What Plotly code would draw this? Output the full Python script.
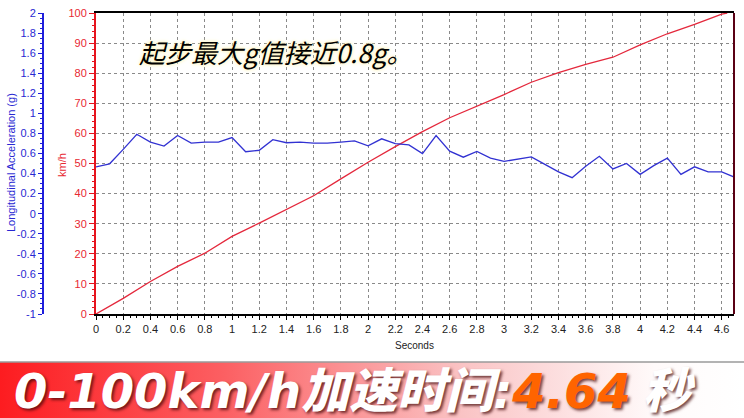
import plotly.graph_objects as go

W, H = 744, 418

# ---- data ----
accel_time = [round(i * 0.1, 1) for i in range(48)]
accel_g = [0.467, 0.497, 0.641, 0.791, 0.713, 0.674, 0.779, 0.704, 0.713, 0.713,
           0.758, 0.617, 0.632, 0.737, 0.707, 0.713, 0.704, 0.704, 0.713, 0.725,
           0.677, 0.746, 0.698, 0.686, 0.599, 0.779, 0.623, 0.563, 0.620, 0.554,
           0.521, 0.542, 0.566, 0.491, 0.416, 0.359, 0.473, 0.572, 0.446, 0.500,
           0.392, 0.479, 0.554, 0.392, 0.467, 0.416, 0.416, 0.359]

speed_time = [0, 0.2, 0.4, 0.6, 0.8, 1.0, 1.2, 1.4, 1.6, 1.8, 2.0, 2.2, 2.4, 2.6,
              2.8, 3.0, 3.2, 3.4, 3.6, 3.8, 4.0, 4.2, 4.4, 4.6, 4.64]
speed_kmh = [0, 5.2, 10.8, 15.8, 20.2, 25.8, 30.2, 34.7, 39.3, 44.9, 50.4, 55.6,
             60.6, 65.2, 69.0, 72.9, 77.0, 80.2, 82.9, 85.3, 89.4, 93.1, 96.2,
             99.6, 100]

g_tickvals = [2, 1.8, 1.6, 1.4, 1.2, 1, 0.8, 0.6, 0.4, 0.2, 0,
              -0.2, -0.4, -0.6, -0.8, -1]
g_ticktext = ["2", "1.8", "1.6", "1.4", "1.2", "1", "0.8", "0.6", "0.4", "0.2", "0",
              "-0.2", "-0.4", "-0.6", "-0.8", "-1"]

note_text = "起步最大g值接近0.8g。"
banner_main = "0-100km/h加速时间:"
banner_value = "4.64"
banner_unit = "秒"

# ---- pixel helpers for layout ----
def px(x):
    return x / W

def py(y):
    return 1 - y / H

plot_l, plot_r, plot_t, plot_b = 96, 734, 13, 314

fig = go.Figure()

fig.add_trace(go.Scatter(x=speed_time, y=speed_kmh, mode="lines",
                         line=dict(color="rgb(228,40,60)", width=1.3),
                         xaxis="x", yaxis="y", hoverinfo="skip"))
fig.add_trace(go.Scatter(x=accel_time, y=accel_g, mode="lines",
                         line=dict(color="rgb(50,50,210)", width=1.3),
                         xaxis="x", yaxis="y2", hoverinfo="skip"))

# banner gradient
fig.add_trace(go.Scatter(x=[0, 1, 1, 0, 0], y=[0, 0, 1, 1, 0], mode="lines",
                         fill="toself", line=dict(width=0),
                         fillgradient=dict(type="horizontal",
                                           colorscale=[[0, "rgb(253,28,32)"],
                                                       [0.3, "rgb(252,95,98)"],
                                                       [0.62, "rgb(250,195,196)"],
                                                       [0.88, "rgb(255,250,250)"],
                                                       [1, "rgb(255,255,255)"]]),
                         xaxis="x3", yaxis="y3", hoverinfo="skip"))

tickfont = dict(family="Liberation Sans, Arial, sans-serif", size=11)

fig.update_layout(
    template="none",
    width=W, height=H, autosize=False,
    margin=dict(l=0, r=0, t=0, b=0, pad=0, autoexpand=False),
    paper_bgcolor="white", plot_bgcolor="white",
    showlegend=False,
    xaxis=dict(domain=[px(plot_l), px(plot_r)], range=[0, 4.69], automargin=False,
               dtick=0.2, tick0=0, showgrid=True, gridcolor="#8a8a8a",
               griddash="3px,3px", gridwidth=1, zeroline=False,
               showline=True, linecolor="black", linewidth=2, mirror=True,
               ticks="outside", ticklen=4, tickcolor="black",
               minor=dict(dtick=0.05, ticks="outside", ticklen=2, tickcolor="black", showgrid=False),
               tickfont=dict(tickfont, color="#222"), anchor="y"),
    yaxis=dict(domain=[py(plot_b), py(plot_t)], range=[0, 100], dtick=10, automargin=False,
               showgrid=True, gridcolor="#8a8a8a", griddash="3px,3px", gridwidth=1,
               zeroline=False, showline=True, linecolor="rgb(230,20,30)", linewidth=2,
               ticks="outside", ticklen=5, tickcolor="rgb(230,20,30)",
               minor=dict(dtick=2, ticks="outside", ticklen=2, tickcolor="rgb(230,20,30)", showgrid=False),
               tickfont=dict(tickfont, color="rgb(232,40,50)"), anchor="x"),
    yaxis2=dict(overlaying="y", anchor="free", position=px(43), side="left", automargin=False,
                range=[-1, 2], tickvals=g_tickvals, ticktext=g_ticktext,
                showgrid=False, zeroline=False, showline=True,
                linecolor="rgb(30,30,220)", linewidth=2,
                ticks="outside", ticklen=4, tickcolor="rgb(30,30,220)",
                minor=dict(dtick=0.05, ticks="outside", ticklen=2, tickcolor="rgb(30,30,220)"),
                tickfont=dict(tickfont, color="rgb(40,40,210)")),
    xaxis3=dict(domain=[0, 1], range=[0, 1], visible=False, anchor="y3", fixedrange=True,
                automargin=False),
    yaxis3=dict(domain=[0, 56 / H], range=[0, 1], visible=False, anchor="x3", fixedrange=True,
                automargin=False),
)

shapes = [
    dict(type="line", xref="x domain", yref="y domain", x0=1, x1=1, y0=0, y1=1,
         line=dict(color="rgb(90,0,20)", width=2)),
    dict(type="line", xref="paper", yref="paper", x0=0, x1=1, y0=56 / H, y1=56 / H,
         line=dict(color="#9a9a9a", width=1.5)),
]
fig.update_layout(shapes=shapes)

annotations = [
    dict(text="Longitudinal Acceleration (g)", xref="paper", yref="paper",
         x=px(11), y=py(163), xanchor="center", yanchor="middle", textangle=-90,
         showarrow=False,
         font=dict(family="Liberation Sans, Arial, sans-serif", size=11, color="rgb(40,40,210)")),
    dict(text="km/h", xref="paper", yref="paper", x=px(62), y=py(165), textangle=-90,
         xanchor="center", yanchor="middle", showarrow=False,
         font=dict(family="Liberation Sans, Arial, sans-serif", size=11, color="rgb(232,40,50)")),
    dict(text="Seconds", xref="paper", yref="paper", x=px(415), y=py(345),
         xanchor="center", yanchor="middle", showarrow=False,
         font=dict(family="Liberation Sans, Arial, sans-serif", size=10, color="#222")),
    dict(text=note_text, xref="paper", yref="paper", x=px(275), y=py(52),
         xanchor="center", yanchor="middle", showarrow=False,
         font=dict(family="Noto Sans CJK SC, sans-serif", size=26, color="black",
                   style="italic", shadow="0px 0px 4px #fff3b8, 0px 0px 3px #fff3b8")),
    dict(text=(f"{banner_main}<span style='color:#ff6400'>{banner_value}</span>"
               f"<span style='font-size:34px'> </span>{banner_unit}"),
         xref="paper", yref="paper", x=px(12), y=py(391), xanchor="left", yanchor="middle",
         showarrow=False,
         font=dict(family="DejaVu Sans, Noto Sans CJK SC, sans-serif", size=48,
                   color="white", weight=900, style="italic",
                   shadow="2px 2px 3px rgba(70,10,10,0.75)")),
]
fig.update_layout(annotations=annotations)

fig.write_html("out.html", config={"displayModeBar": False},
               post_script="document.body.style.margin='0';document.body.style.overflow='hidden';")
